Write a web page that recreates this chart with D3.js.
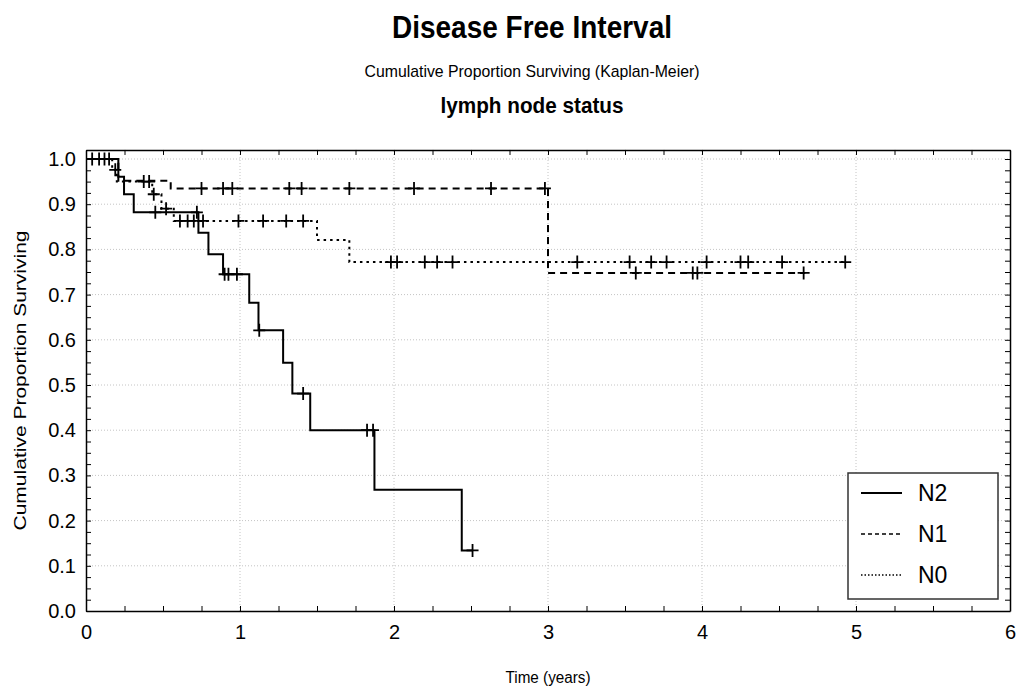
<!DOCTYPE html>
<html><head><meta charset="utf-8">
<script src="https://cdn.jsdelivr.net/npm/d3@7"></script>
<style>body{margin:0;background:#fff} text{font-family:"Liberation Sans",Arial,sans-serif;fill:#000}</style>
</head><body><svg id="c" width="1017" height="693"></svg>
<script>
// ---- data ----
const groups = ["N2", "N1", "N0"];
// event times (years) and survival after each event
const n2Times = [0.21, 0.247, 0.31, 0.73, 0.795, 0.89, 1.06, 1.12, 1.28, 1.34, 1.456, 1.873, 2.44];
const n2Surv  = [0.961, 0.922, 0.882, 0.837, 0.789, 0.745, 0.682, 0.621, 0.549, 0.481, 0.40, 0.268, 0.134];
const n2Censored = [0.04, 0.085, 0.45, 0.72, 0.90, 0.925, 0.98, 1.125, 1.41, 1.825, 1.864, 2.51];
const n2End = 2.51;

const n1Times = [0.21, 0.55, 3.0];
const n1Surv  = [0.952, 0.935, 0.748];
const n1Censored = [0.12, 0.75, 0.89, 0.95, 1.32, 1.40, 1.71, 2.13, 2.63, 2.98, 3.57, 3.94, 3.97, 4.66];
const n1End = 4.67;

const n0Times = [0.17, 0.2, 0.43, 0.49, 0.57, 1.5, 1.71];
const n0Surv  = [0.976, 0.95, 0.922, 0.89, 0.863, 0.821, 0.772];
const n0Censored = [0.15, 0.19, 0.375, 0.41, 0.44, 0.52, 0.61, 0.66, 0.70, 0.76, 0.99, 1.15, 1.30, 1.41, 1.98, 2.02, 2.20, 2.28, 2.38, 3.19, 3.53, 3.67, 3.77, 4.03, 4.25, 4.30, 4.52, 4.93];
const n0End = 4.93;

const xTicks = [0, 1, 2, 3, 4, 5, 6];
const yTicks = [0, 0.1, 0.2, 0.3, 0.4, 0.5, 0.6, 0.7, 0.8, 0.9, 1.0];

const titleText = "Disease Free Interval";
const subtitleText = "Cumulative Proportion Surviving (Kaplan-Meier)";
const groupTitle = "lymph node status";
const xLabel = "Time (years)";
const yLabel = "Cumulative Proportion Surviving";

// ---- chart ----
const svg = d3.select("#c");
const x = d3.scaleLinear().domain([0, 6]).range([86, 1010]);
const y = d3.scaleLinear().domain([0, 1]).range([611, 159]);
const yTop = 1.02;

const styles = {
  N2: {dash: null, legendDash: null},
  N1: {dash: "7,5", legendDash: "4,3"},
  N0: {dash: "2.5,4", legendDash: "1.5,2"}
};

const series = [
  {name: "N2", times: n2Times, surv: n2Surv, cens: n2Censored, end: n2End},
  {name: "N1", times: n1Times, surv: n1Surv, cens: n1Censored, end: n1End},
  {name: "N0", times: n0Times, surv: n0Surv, cens: n0Censored, end: n0End}
];

// gridlines
const grid = svg.append("g").attr("stroke", "#c4c4c4").attr("stroke-width", 1).attr("stroke-dasharray", "1,2");
grid.selectAll(".gx").data(xTicks.filter(d => d > 0 && d < 6)).join("line")
  .attr("x1", d => x(d)).attr("x2", d => x(d)).attr("y1", y(0)).attr("y2", y(yTop));
grid.selectAll(".gy").data(yTicks.filter(d => d > 0)).join("line")
  .attr("y1", d => y(d)).attr("y2", d => y(d)).attr("x1", x(0)).attr("x2", x(6));

// axes with inward ticks
const xMinor = d3.range(0, 6.001, 0.25);
const yMinor = d3.range(0, 1.0201, 0.025);
function styleAxis(g) {
  g.selectAll("path").attr("stroke", "#000").attr("stroke-width", 1.5);
  g.selectAll("line").attr("stroke", "#000").attr("stroke-width", 1);
}
svg.append("g").attr("transform", `translate(0,${y(0)})`)
  .call(d3.axisBottom(x).tickValues(xMinor).tickSizeInner(-5).tickSizeOuter(0).tickFormat(""))
  .call(styleAxis);
svg.append("g").attr("transform", `translate(0,${y(yTop)})`)
  .call(d3.axisTop(x).tickValues(xMinor).tickSizeInner(-5).tickSizeOuter(0).tickFormat(""))
  .call(styleAxis);
const yFull = d3.scaleLinear().domain([0, yTop]).range([y(0), y(yTop)]);
svg.append("g").attr("transform", `translate(${x(0)},0)`)
  .call(d3.axisLeft(yFull).tickValues(yMinor.filter(d => d <= 1.0)).tickSizeInner(-5).tickSizeOuter(0).tickFormat(""))
  .call(styleAxis);
svg.append("g").attr("transform", `translate(${x(6)},0)`)
  .call(d3.axisRight(yFull).tickValues(yMinor.filter(d => d <= 1.0)).tickSizeInner(-5).tickSizeOuter(0).tickFormat(""))
  .call(styleAxis);

// tick labels
const xl = svg.append("g").attr("transform", `translate(0,${y(0)})`)
  .call(d3.axisBottom(x).tickValues(xTicks).tickSize(0).tickPadding(14).tickFormat(d3.format("d")));
xl.select(".domain").remove();
xl.selectAll("text").attr("font-size", 20).attr("font-family", "Liberation Sans, Arial, sans-serif");
const yl = svg.append("g").attr("transform", `translate(${x(0)},0)`)
  .call(d3.axisLeft(y).tickValues(yTicks).tickSize(0).tickPadding(10).tickFormat(d3.format(".1f")));
yl.select(".domain").remove();
yl.selectAll("text").attr("font-size", 20).attr("font-family", "Liberation Sans, Arial, sans-serif");

// curves
const line = d3.line().x(d => x(d[0])).y(d => y(d[1])).curve(d3.curveStepAfter);
function survAt(s, t) {
  let v = 1;
  s.times.forEach((tt, i) => { if (tt <= t) v = s.surv[i]; });
  return v;
}
series.forEach(s => {
  const pts = [[0, 1]];
  s.times.forEach((t, i) => pts.push([t, s.surv[i]]));
  pts.push([s.end, s.surv[s.surv.length - 1]]);
  svg.append("path").datum(pts).attr("d", line)
    .attr("fill", "none").attr("stroke", "#000").attr("stroke-width", 2)
    .attr("stroke-dasharray", styles[s.name].dash);
  svg.append("g").selectAll("path").data(s.cens).join("path")
    .attr("d", t => `M${x(t) - 6},${y(survAt(s, t))}h12M${x(t)},${y(survAt(s, t)) - 6.5}v13`)
    .attr("stroke", "#000").attr("stroke-width", 1.8).attr("fill", "none");
});

// legend
const lg = svg.append("g");
lg.append("rect").attr("x", 848).attr("y", 473).attr("width", 150).attr("height", 126)
  .attr("fill", "#fff").attr("stroke", "#333").attr("stroke-width", 1.5);
const rowY = d3.scalePoint().domain(groups).range([493, 575]);
groups.forEach(g => {
  lg.append("line").attr("x1", 861).attr("x2", 902).attr("y1", rowY(g)).attr("y2", rowY(g))
    .attr("stroke", "#000").attr("stroke-width", g === "N2" ? 2 : 1.6).attr("stroke-dasharray", styles[g].legendDash);
  lg.append("text").attr("x", 918).attr("y", rowY(g)).attr("dy", "0.36em")
    .attr("font-size", 23).text(g);
});

// titles
svg.append("text").attr("x", 532).attr("y", 38).attr("text-anchor", "middle")
  .attr("font-size", 32).attr("font-weight", "bold")
  .attr("textLength", 280).attr("lengthAdjust", "spacingAndGlyphs").text(titleText);
svg.append("text").attr("x", 532).attr("y", 77).attr("text-anchor", "middle")
  .attr("font-size", 17).attr("textLength", 335).attr("lengthAdjust", "spacingAndGlyphs").text(subtitleText);
svg.append("text").attr("x", 532).attr("y", 113).attr("text-anchor", "middle")
  .attr("font-size", 22).attr("font-weight", "bold")
  .attr("textLength", 183).attr("lengthAdjust", "spacingAndGlyphs").text(groupTitle);
svg.append("text").attr("transform", `translate(26,${(y(0) + y(yTop)) / 2}) rotate(-90)`)
  .attr("text-anchor", "middle").attr("font-size", 16)
  .attr("textLength", 300).attr("lengthAdjust", "spacingAndGlyphs").text(yLabel);
svg.append("text").attr("x", 548).attr("y", 683).attr("text-anchor", "middle")
  .attr("font-size", 16).attr("textLength", 85).attr("lengthAdjust", "spacingAndGlyphs").text(xLabel);
</script></body></html>
